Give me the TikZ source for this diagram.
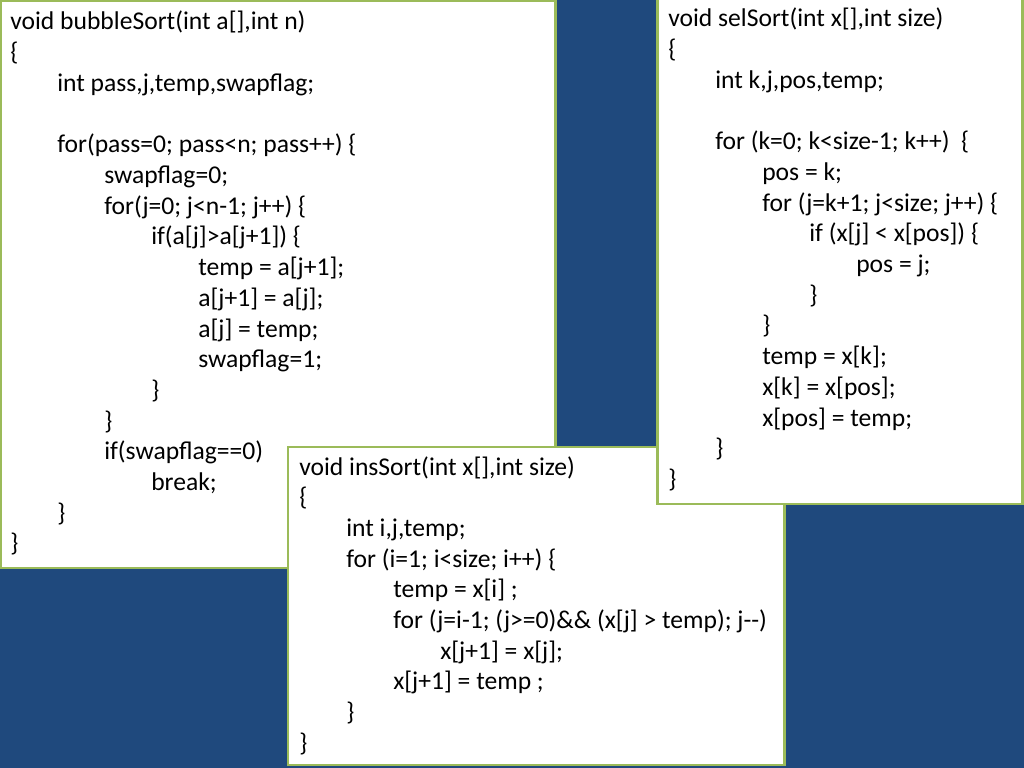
\documentclass[tikz,border=0pt]{standalone}
\usepackage{fontspec}
\setmainfont{Carlito}
\definecolor{slideblue}{RGB}{31,73,125}
\definecolor{boxgreen}{RGB}{155,187,89}
\tikzset{
  codebox/.style={draw=boxgreen, line width=2.1pt, fill=white},
  codeline/.style={anchor=base west, inner sep=0pt, font=\fontsize{18}{21.6}\selectfont},
}
\newcommand{\lnsk}{30.7}
\newcommand{\indw}{47}

\begin{document}
\begin{tikzpicture}[x=0.703125pt,y=-0.703125pt]
        \fill[slideblue] (0,0) rectangle (1024,768);
        \useasboundingbox (0,0) rectangle (1024,768);
        % bubble sort
        \draw[codebox] (1,1) rectangle (555,568);
        \foreach \lvl/\row/\txt in {
            0/0/{void bubbleSort(int a[],int n)}, 0/1/{\{},
            1/2/{int pass,j,temp,swapflag;},
            1/4/{for(pass=0; pass<n; pass++) \{}, 2/5/{swapflag=0;},
            2/6/{for(j=0; j<n-1; j++) \{}, 3/7/{if(a[j]>a[j+1]) \{},
            4/8/{temp = a[j+1];}, 4/9/{a[j+1] = a[j];}, 4/10/{a[j] = temp;},
            4/11/{swapflag=1;}, 3/12/{\}}, 2/13/{\}},
            2/14/{if(swapflag==0)}, 3/15/{break;}, 1/16/{\}}, 0/17/{\}}}
          \node[codeline] (bub-\row) at ({10+\lvl*\indw},{30+\row*\lnsk}) {\txt};
        % insertion sort
        \draw[codebox] (288,447) rectangle (784,765);
        \foreach \lvl/\row/\txt in {
            0/0/{void insSort(int x[],int size)}, 0/1/{\{},
            1/2/{int i,j,temp;}, 1/3/{for (i=1; i<size; i++) \{},
            2/4/{temp = x[i] ;},
            2/5/{for (j=i-1; (j>=0)\&\& (x[j] > temp); j-{}-)},
            3/6/{x[j+1] = x[j];}, 2/7/{x[j+1] = temp ;},
            1/8/{\}}, 0/9/{\}}}
          \node[codeline] (ins-\row) at ({299+\lvl*\indw},{475+\row*\lnsk}) {\txt};
        % selection sort
        \draw[codebox] (657,-4) rectangle (1022,504);
        \foreach \lvl/\row/\txt in {
            0/0/{void selSort(int x[],int size)}, 0/1/{\{},
            1/2/{int k,j,pos,temp;},
            1/4/{for (k=0; k<size-1; k++)\ \ \{}, 2/5/{pos = k;},
            2/6/{for (j=k+1; j<size; j++) \{}, 3/7/{if (x[j] < x[pos]) \{},
            4/8/{pos = j;}, 3/9/{\}}, 2/10/{\}},
            2/11/{temp = x[k];}, 2/12/{x[k] = x[pos];}, 2/13/{x[pos] = temp;},
            1/14/{\}}, 0/15/{\}}}
          \node[codeline] (sel-\row) at ({668+\lvl*\indw},{27+\row*\lnsk}) {\txt};
\end{tikzpicture}
\end{document}
